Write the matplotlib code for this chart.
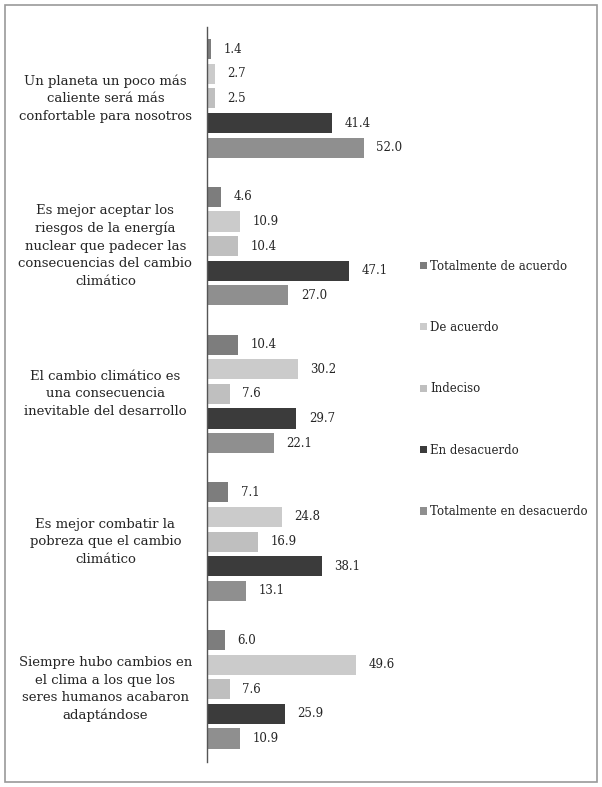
import matplotlib.pyplot as plt
import matplotlib.patches as mpatches
import matplotlib.transforms as mtransforms
import numpy as np

plt.rcParams['font.family'] = ['DejaVu Serif']

categorias = [
    'Un planeta un poco más\ncaliente será más\nconfortable para nosotros',
    'Es mejor aceptar los\nriesgos de la energía\nnuclear que padecer las\nconsecuencias del cambio\nclimático',
    'El cambio climático es\nuna consecuencia\ninevitable del desarrollo',
    'Es mejor combatir la\npobreza que el cambio\nclimático',
    'Siempre hubo cambios en\nel clima a los que los\nseres humanos acabaron\nadaptándose',
]
series = ['Totalmente de acuerdo', 'De acuerdo', 'Indeciso',
          'En desacuerdo', 'Totalmente en desacuerdo']

tot_acuerdo = [1.4, 4.6, 10.4, 7.1, 6.0]
de_acuerdo = [2.7, 10.9, 30.2, 24.8, 49.6]
indeciso = [2.5, 10.4, 7.6, 16.9, 7.6]
en_desacuerdo = [41.4, 47.1, 29.7, 38.1, 25.9]
tot_desacuerdo = [52.0, 27.0, 22.1, 13.1, 10.9]

valores = [tot_acuerdo, de_acuerdo, indeciso, en_desacuerdo, tot_desacuerdo]
colores = ['#7d7d7d', '#cbcbcb', '#bfbfbf', '#3b3b3b', '#8f8f8f']
texto_col = '#252525'

fig = plt.figure(figsize=(6.02, 7.87), dpi=100)
ax = fig.add_axes([0.3439, 0.0318, 0.30, 0.9339])

n_grupo = len(series) + 1
for j, (nombre, vals, col) in enumerate(zip(series, valores, colores)):
    y = np.arange(len(categorias)) * n_grupo + j
    ax.barh(y, vals, height=0.82, color=col, label=nombre)
    for yy, v in zip(y, vals):
        ax.annotate('%.1f' % v, (v, yy), xytext=(9, 0),
                    textcoords='offset points', va='center', ha='left',
                    fontsize=8.5, color=texto_col, annotation_clip=False)

# etiquetas de categoria centradas a la izquierda del eje
trans = mtransforms.blended_transform_factory(fig.transFigure, ax.transData)
centros = np.arange(len(categorias)) * n_grupo + 2
for yc, texto in zip(centros, categorias):
    ax.text(0.175, yc, texto, transform=trans,
            ha='center', va='center', fontsize=9.5, color=texto_col,
            linespacing=1.45)

ax.set_xlim(0, 60)
ax.set_ylim(28.95, -0.9)
ax.set_xticks([])
ax.set_yticks([])
for s in ['top', 'right', 'bottom']:
    ax.spines[s].set_visible(False)
ax.spines['left'].set_color('#555555')
ax.spines['left'].set_linewidth(1.0)

leg = ax.legend(loc='upper left', bbox_to_anchor=(1.155, 0.69), frameon=False,
                fontsize=8.5, handlelength=0.55, handleheight=0.55,
                handletextpad=0.3, labelspacing=4.1, borderaxespad=0)
for t in leg.get_texts():
    t.set_color(texto_col)

# marco exterior
fig.patches.append(mpatches.Rectangle((0.008, 0.006), 0.984, 0.988,
                                      transform=fig.transFigure, fill=False,
                                      edgecolor='#999999', linewidth=1.2))

plt.savefig('out.png', dpi=100)
